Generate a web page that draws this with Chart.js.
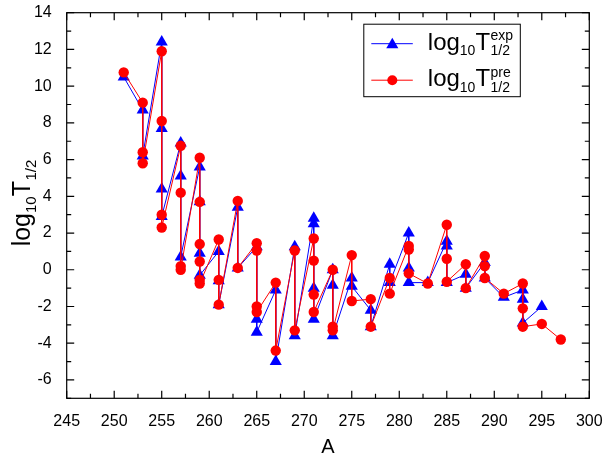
<!DOCTYPE html>
<html>
<head>
<meta charset="utf-8">
<script src="https://cdn.jsdelivr.net/npm/chart.js@4.4.1/dist/chart.umd.min.js"></script>
<style>
  html, body { margin: 0; padding: 0; background: #fff; }
  #wrap { width: 603px; height: 460px; position: relative; }
</style>
</head>
<body>
<div id="wrap"><canvas id="grafico"></canvas></div>
<script>
// valores: massa A e log10 T1/2
const expA = [251, 253, 253, 255, 255, 255, 255, 257, 257, 257, 259, 259, 259, 259,
  261, 261, 261, 263, 263, 265, 265, 265, 267, 267, 269, 269, 271, 271, 271, 271,
  273, 273, 273, 275, 275, 277, 277, 279, 279, 281, 281, 281, 283, 285, 285, 285,
  287, 287, 289, 289, 291, 293, 293, 293, 295];
const expLog = [10.5, 8.7, 6.2, 12.4, 7.7, 4.4, 2.9, 6.9, 5.1, 0.7, 5.6, 3.7, 0.9, -0.3,
  1.0, -0.6, -1.9, 3.4, 0.1, 1.25, -2.7, -3.4, -1.1, -5.0, 1.25, -3.6, 2.8, 2.5, -1.0, -2.7,
  0.0, -0.85, -3.6, -0.45, -0.9, -2.2, -3.1, 0.3, -0.7, 2.0, 0.1, -0.7, -0.7, 1.55, 1.3, -0.7,
  -0.25, -1.0, 0.4, -0.45, -1.5, -1.1, -1.6, -2.9, -2.0];

const preA = [251, 253, 253, 253, 255, 255, 255, 255, 257, 257, 257, 257,
  259, 259, 259, 259, 259, 259, 261, 261, 261, 263, 263, 265, 265, 265, 265,
  267, 267, 269, 269, 271, 271, 271, 271, 273, 273, 273, 275, 275, 277, 277,
  279, 279, 281, 281, 281, 283, 285, 285, 285, 287, 287, 289, 289, 289,
  291, 293, 293, 293, 295, 297];
const preLog = [10.75, 9.1, 6.4, 5.8, 11.9, 8.1, 3.0, 2.3, 6.75, 4.2, 0.2, 0.0,
  6.1, 3.7, 1.4, 0.45, -0.55, -0.75, 1.65, -0.55, -1.9, 3.75, 0.1, 1.45, 1.05, -2.0, -2.3,
  -0.7, -4.4, 1.05, -3.3, 1.7, 0.5, -1.35, -2.3, 0.0, -3.1, -3.3, 0.8, -1.7, -1.6, -3.1,
  -0.45, -1.3, 1.3, 1.1, -0.2, -0.75, 2.45, 0.6, -0.65, 0.3, -1.0, 0.75, 0.2, -0.45,
  -1.3, -0.75, -2.1, -3.1, -2.95, -3.8];

const xMin = 245, xMax = 300, xStep = 5;
const yMin = -7, yMax = 14, yStep = 2;

const FONTE = "'Liberation Sans', Arial, sans-serif";
const AZUL = '#0000ff';
const VERMELHO = '#ff0000';

// texto tipo log10 T com sub/sobrescrito
function textoLog(ctx, x, y, tam, sup) {
  const pequeno = Math.round(tam * 0.6);
  ctx.font = tam + 'px ' + FONTE;
  ctx.fillText('log', x, y);
  x += ctx.measureText('log').width;
  ctx.font = pequeno + 'px ' + FONTE;
  ctx.fillText('10', x, y + tam * 0.23);
  x += ctx.measureText('10').width;
  ctx.font = tam + 'px ' + FONTE;
  ctx.fillText('T', x, y);
  x += ctx.measureText('T').width + 0.5;
  ctx.font = pequeno + 'px ' + FONTE;
  ctx.fillText('1/2', x, y + tam * 0.23);
  if (sup) ctx.fillText(sup, x, y - tam * 0.4);
}

function larguraLog(ctx, tam) {
  const pequeno = Math.round(tam * 0.6);
  ctx.font = tam + 'px ' + FONTE;
  let w = ctx.measureText('log').width + ctx.measureText('T').width + 0.5;
  ctx.font = pequeno + 'px ' + FONTE;
  w += ctx.measureText('10').width + ctx.measureText('1/2').width;
  return w;
}

function triangulo(ctx, x, y, r) {
  ctx.beginPath();
  ctx.moveTo(x, y - r);
  ctx.lineTo(x + r * Math.sin(2 * Math.PI / 3), y + r / 2);
  ctx.lineTo(x - r * Math.sin(2 * Math.PI / 3), y + r / 2);
  ctx.closePath();
  ctx.fill();
}

const moldura = {
  id: 'moldura',
  afterDraw(chart) {
    const ctx = chart.ctx;
    const a = chart.chartArea;
    const sx = chart.scales.x, sy = chart.scales.y;
    ctx.save();
    ctx.strokeStyle = '#000';
    ctx.lineWidth = 1.2;
    ctx.strokeRect(a.left, a.top, a.right - a.left, a.bottom - a.top);
    ctx.beginPath();
    for (let v = xMin; v <= xMax + 0.01; v += xStep / 2) {
      const px = sx.getPixelForValue(v);
      const len = (Math.abs((v - xMin) % xStep) < 0.01) ? 7.5 : 4.5;
      ctx.moveTo(px, a.bottom); ctx.lineTo(px, a.bottom - len);
      ctx.moveTo(px, a.top); ctx.lineTo(px, a.top + len);
    }
    for (let v = yMin; v <= yMax + 0.01; v += 1) {
      const py = sy.getPixelForValue(v);
      const len = (Math.abs(v % yStep) < 0.01) ? 7.5 : 4.5;
      ctx.moveTo(a.left, py); ctx.lineTo(a.left + len, py);
      ctx.moveTo(a.right, py); ctx.lineTo(a.right - len, py);
    }
    ctx.stroke();

    // titulo do eixo y
    ctx.fillStyle = '#000';
    ctx.textBaseline = 'alphabetic';
    ctx.textAlign = 'left';
    const tamY = 25;
    const w = larguraLog(ctx, tamY);
    ctx.translate(30, 203);
    ctx.rotate(-Math.PI / 2);
    textoLog(ctx, -w / 2, 0, tamY, null);
    ctx.setTransform(1, 0, 0, 1, 0, 0);

    // legenda
    const bx = a.right - 225.5, by = a.top + 11.5, bw = 156.5, bh = 72.5;
    ctx.lineWidth = 1;
    ctx.strokeStyle = '#000';
    ctx.strokeRect(bx, by, bw, bh);
    const linhas = [
      { cor: AZUL, cy: by + 19.5, sup: 'exp', tri: true },
      { cor: VERMELHO, cy: by + 56, sup: 'pre', tri: false }
    ];
    linhas.forEach(l => {
      ctx.strokeStyle = l.cor;
      ctx.fillStyle = l.cor;
      ctx.beginPath();
      ctx.moveTo(bx + 7.5, l.cy); ctx.lineTo(bx + 49, l.cy);
      ctx.stroke();
      if (l.tri) triangulo(ctx, bx + 28.5, l.cy + 1, 7);
      else { ctx.beginPath(); ctx.arc(bx + 28.5, l.cy, 5, 0, Math.PI * 2); ctx.fill(); }
      ctx.fillStyle = '#000';
      textoLog(ctx, bx + 64, l.cy + 6.2, 24, l.sup);
    });
    ctx.restore();
  }
};

new Chart(document.getElementById('grafico'), {
  type: 'scatter',
  data: {
    datasets: [
      {
        label: 'exp',
        data: expA.map((a, i) => ({ x: a, y: expLog[i] })),
        showLine: true,
        borderColor: AZUL,
        backgroundColor: AZUL,
        borderWidth: 1,
        pointStyle: 'triangle',
        pointRadius: 7,
        pointBorderWidth: 0,
        order: 1
      },
      {
        label: 'pre',
        data: preA.map((a, i) => ({ x: a, y: preLog[i] })),
        showLine: true,
        borderColor: VERMELHO,
        backgroundColor: VERMELHO,
        borderWidth: 1,
        pointStyle: 'circle',
        pointRadius: 5.2,
        pointBorderWidth: 0,
        order: 0
      }
    ]
  },
  options: {
    responsive: true,
    maintainAspectRatio: false,
    animation: false,
    layout: { padding: { left: 0, top: 12.7, right: 13.7, bottom: 0 } },
    plugins: { legend: { display: false }, tooltip: { enabled: false } },
    scales: {
      x: {
        type: 'linear',
        min: xMin, max: xMax,
        grid: { display: false },
        border: { display: false },
        ticks: { stepSize: xStep, padding: 6, color: '#000', font: { family: FONTE, size: 16 } },
        title: { display: true, text: 'A', color: '#000', font: { family: FONTE, size: 20 }, padding: { top: 0, bottom: 1 } },
        afterFit(s) { s.height = 61.7; s.paddingLeft = 0; s.paddingRight = 0; }
      },
      y: {
        min: yMin, max: yMax,
        grid: { display: false },
        border: { display: false },
        ticks: { stepSize: yStep, includeBounds: false, padding: 7, color: '#000', font: { family: FONTE, size: 16 } },
        afterFit(s) { s.width = 66.7; s.paddingTop = 0; s.paddingBottom = 0; }
      }
    }
  },
  plugins: [moldura]
});
</script>
</body>
</html>
